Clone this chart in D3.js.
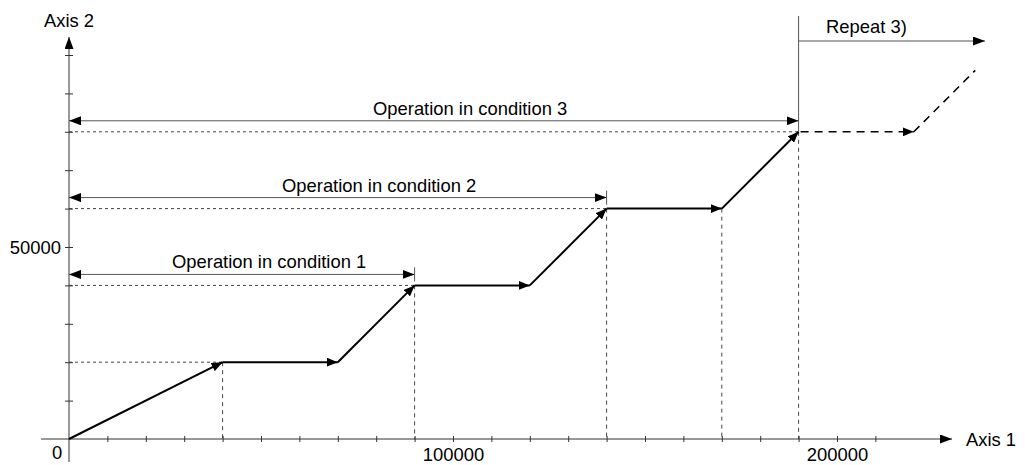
<!DOCTYPE html>
<html>
<head>
<meta charset="utf-8">
<script src="https://cdn.jsdelivr.net/npm/d3@7"></script>
<style>
  html, body { margin: 0; padding: 0; background: #fff; }
  svg text { font-family: "Liberation Sans", Arial, sans-serif; font-size: 18.4px; fill: #000; }
</style>
</head>
<body>
<svg id="chart" width="1025" height="465"></svg>
<script>
// Axis 1 / Axis 2 positions of the interpolation path (solid part)
const pathAxis1 = [0, 40000, 70000, 90000, 120000, 140000, 170000, 190000];
const pathAxis2 = [0, 20000, 20000, 40000, 40000, 60000, 60000, 80000];
// Repeated part (drawn dashed)
const repeatAxis1 = [190000, 220000, 236000];
const repeatAxis2 = [80000, 80000, 96000];

// Operation spans: end on Axis 1 and level on Axis 2
const spanLabels = ["Operation in condition 1", "Operation in condition 2", "Operation in condition 3"];
const spanEnd = [90000, 140000, 190000];
const spanLevel = [40000, 60000, 80000];

// Tick values and labels
const xTicks = d3.range(10000, 210001, 10000);
const yTicks = d3.range(10000, 100001, 10000);
const xTickLabels = { 100000: "100000", 200000: "200000" };
const yTickLabels = { 50000: "50000" };

const svg = d3.select("#chart");
const x = d3.scaleLinear().domain([0, 200000]).range([69, 837]);
const y = d3.scaleLinear().domain([0, 100000]).range([439, 55]);

const defs = svg.append("defs");
function marker(id, d, refX, w, h) {
  defs.append("marker").attr("id", id).attr("viewBox", `0 0 ${w} ${h}`)
    .attr("refX", refX).attr("refY", h / 2).attr("markerWidth", w).attr("markerHeight", h)
    .attr("markerUnits", "userSpaceOnUse").attr("orient", "auto")
    .append("path").attr("d", d).attr("fill", "#000");
}
marker("head", "M0,0L12,4.5L0,9Z", 12, 12, 9);
marker("headStart", "M12,0L0,4.5L12,9Z", 0, 12, 9);
marker("headPath", "M0,0L11,4.5L0,9Z", 11, 11, 9);

const x0 = x(0), y0 = y(0);

// Guide lines (dashed levels and positions)
const guides = svg.append("g").attr("stroke", "#444").attr("stroke-width", 1)
  .attr("fill", "none").attr("stroke-dasharray", "3,3");
const levelPts = pathAxis1.map((v, i) => [v, pathAxis2[i]]).filter((p, i) => i > 0 && (i % 2 === 1));
levelPts.forEach(p => {
  guides.append("line").attr("x1", x0).attr("x2", x(p[0])).attr("y1", y(p[1])).attr("y2", y(p[1]));
  guides.append("line").attr("x1", x(p[0])).attr("x2", x(p[0])).attr("y1", y(p[1])).attr("y2", y0)
    .attr("stroke-dasharray", "4,4");
});
// position where the last flat stretch ends
guides.append("line").attr("x1", x(170000)).attr("x2", x(170000)).attr("y1", y(60000)).attr("y2", y0)
  .attr("stroke-dasharray", "4,4");
// boundary where the repeat starts
guides.append("line").attr("x1", x(190000)).attr("x2", x(190000)).attr("y1", y(80000)).attr("y2", 16)
  .attr("stroke-dasharray", "none").attr("stroke", "#555");

// Axes
const xAxis = d3.axisBottom(x).tickValues(xTicks).tickSize(3)
  .tickFormat(d => xTickLabels[d] || "");
const gx = svg.append("g").attr("transform", `translate(0,${y0})`).call(xAxis);
gx.select(".domain").remove();
gx.selectAll(".tick line").attr("y1", -3).attr("y2", 3).attr("stroke", "#333");
gx.selectAll(".tick text").attr("y", 22).attr("dy", null);

const yAxis = d3.axisLeft(y).tickValues(yTicks).tickSize(3)
  .tickFormat(d => yTickLabels[d] || "");
const gy = svg.append("g").attr("transform", `translate(${x0},0)`).call(yAxis);
gy.select(".domain").remove();
gy.selectAll(".tick line").attr("x1", -4).attr("x2", 4).attr("stroke", "#333");
gy.selectAll(".tick text").attr("x", -8).attr("dy", "0.34em");

svg.append("line").attr("x1", 41).attr("x2", 952).attr("y1", y0).attr("y2", y0)
  .attr("stroke", "#333").attr("marker-end", "url(#head)");
svg.append("line").attr("x1", x0).attr("x2", x0).attr("y1", 462).attr("y2", 37)
  .attr("stroke", "#333").attr("marker-end", "url(#head)");

svg.append("text").attr("x", 57).attr("y", 459).attr("text-anchor", "middle").text("0");
svg.append("text").attr("x", 966).attr("y", 446).text("Axis 1");
svg.append("text").attr("x", 44).attr("y", 27).text("Axis 2");

// Operation span arrows
const spanTextX = [172, 282, 373];
const spans = svg.append("g");
spanLabels.forEach((label, i) => {
  const yy = y(spanLevel[i]) - 11;
  const xe = x(spanEnd[i]);
  spans.append("line").attr("x1", x0).attr("x2", xe).attr("y1", yy).attr("y2", yy)
    .attr("stroke", "#555").attr("marker-start", "url(#headStart)").attr("marker-end", "url(#head)");
  if (i < 2) {
    spans.append("line").attr("x1", xe).attr("x2", xe).attr("y1", yy - 7).attr("y2", yy + 7)
      .attr("stroke", "#555");
  }
  spans.append("text").attr("x", spanTextX[i]).attr("y", yy - 6).text(label);
});

// Repeat arrow
svg.append("line").attr("x1", x(190000)).attr("x2", 985).attr("y1", 41).attr("y2", 41)
  .attr("stroke", "#555").attr("marker-end", "url(#head)");
svg.append("text").attr("x", 826).attr("y", 33).text("Repeat 3)");

// Interpolation path: one arrow per segment
const pts = pathAxis1.map((v, i) => [x(v), y(pathAxis2[i])]);
const pathG = svg.append("g").attr("stroke", "#000").attr("stroke-width", 2);
for (let i = 1; i < pts.length; i++) {
  pathG.append("line").attr("x1", pts[i - 1][0]).attr("y1", pts[i - 1][1])
    .attr("x2", pts[i][0]).attr("y2", pts[i][1]).attr("marker-end", "url(#headPath)");
}
const rpts = repeatAxis1.map((v, i) => [x(v), y(repeatAxis2[i])]);
for (let i = 1; i < rpts.length; i++) {
  pathG.append("line").attr("x1", rpts[i - 1][0] + (i === 1 ? 2 : 0)).attr("y1", rpts[i - 1][1])
    .attr("x2", rpts[i][0]).attr("y2", rpts[i][1]).attr("stroke-width", 1.5)
    .attr("stroke-dasharray", "8,6")
    .attr("marker-end", i === 1 ? "url(#headPath)" : null);
}
</script>
</body>
</html>
